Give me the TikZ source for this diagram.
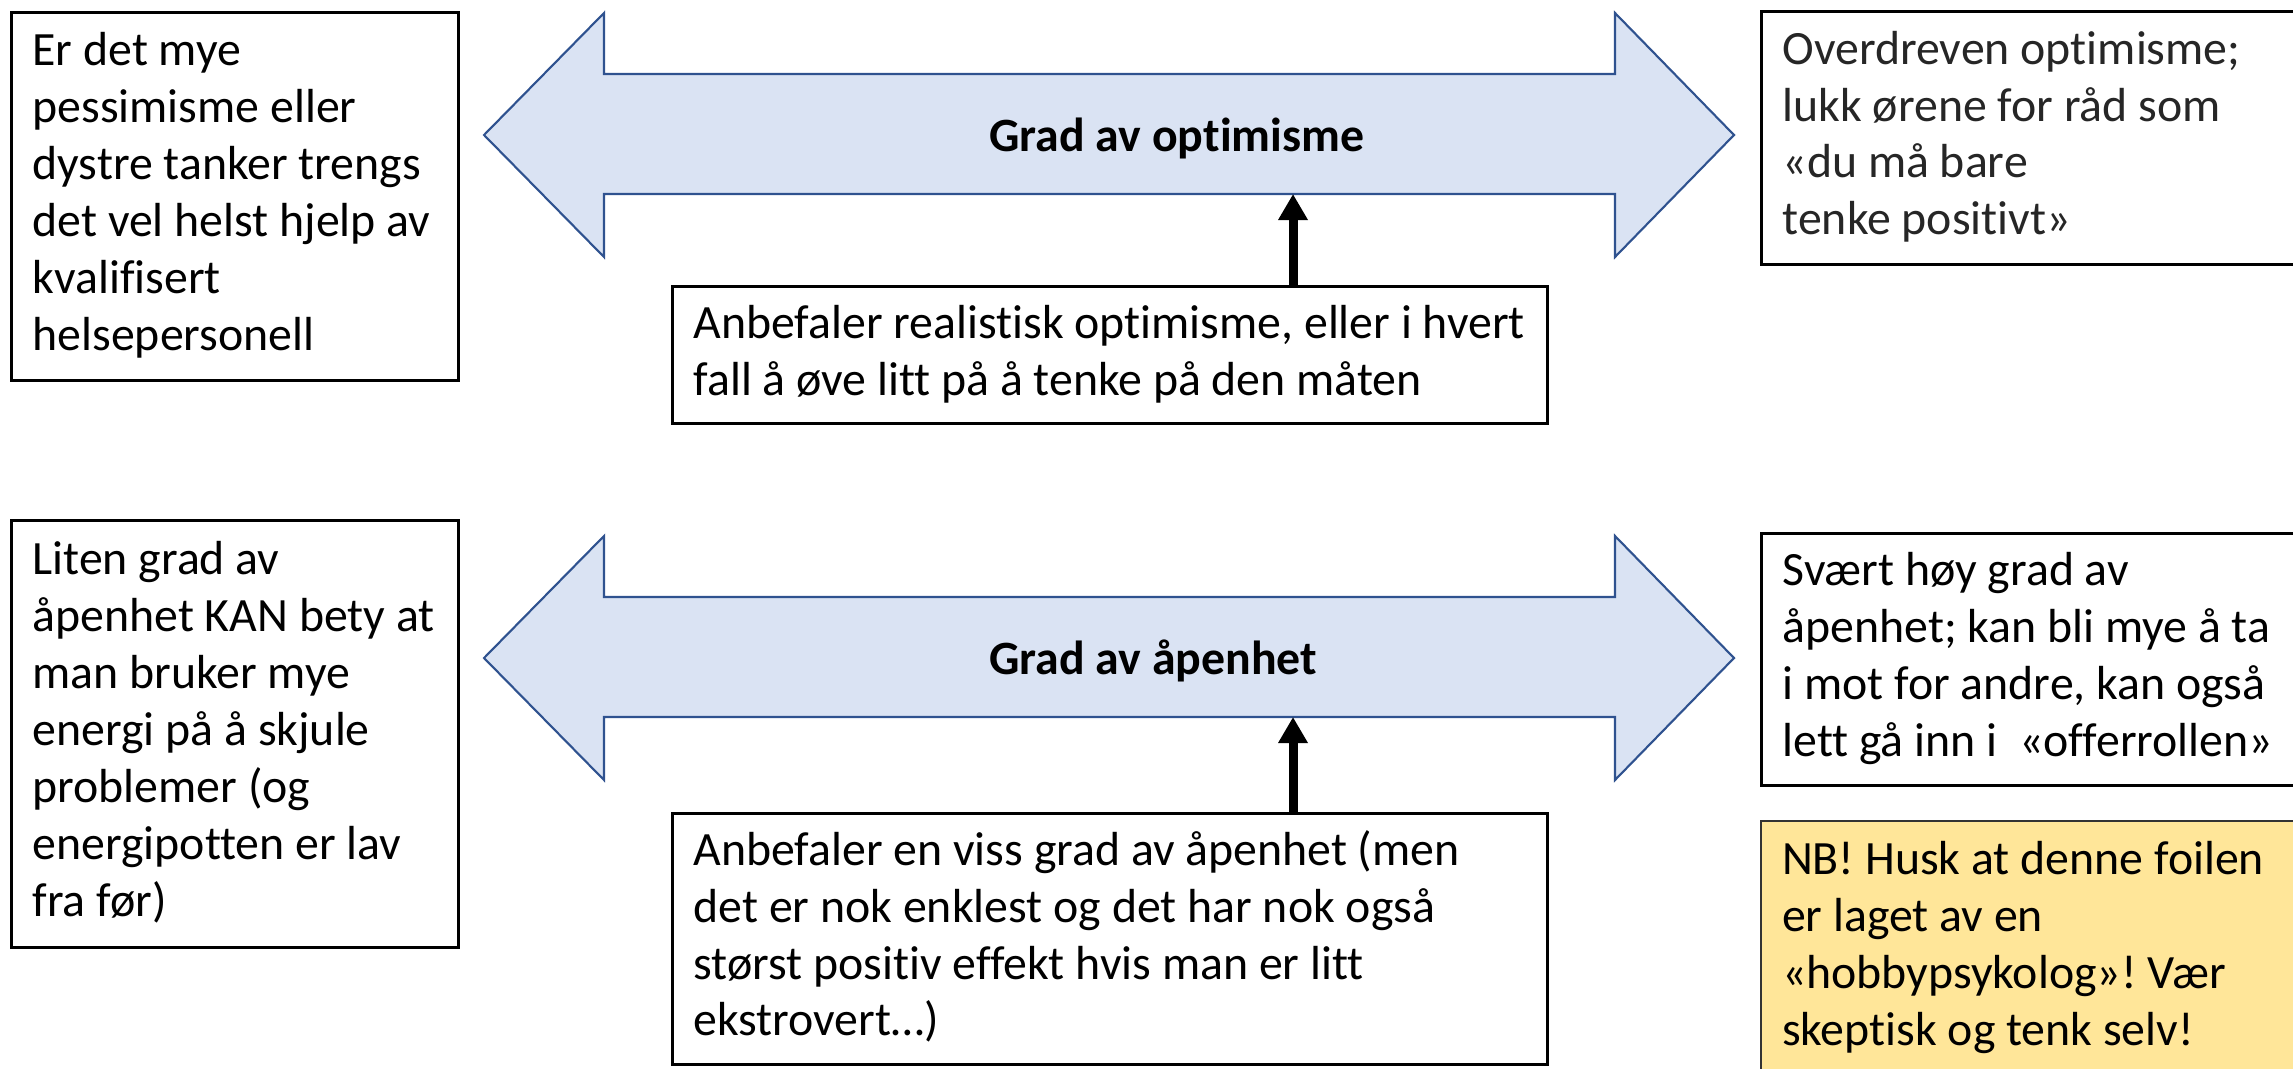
\documentclass[tikz,border=0pt]{standalone}
\usepackage{fontspec}
\setmainfont{Carlito}[Ligatures={NoCommon}]
\usepackage{tikz}
\usetikzlibrary{arrows.meta}

\definecolor{pilfyll}{HTML}{DAE3F3}
\definecolor{pilkant}{HTML}{2F528F}
\definecolor{gul}{HTML}{FFE699}
\newcommand{\brodtekst}{\fontsize{13.6pt}{16.2pt}\selectfont}
\newcommand{\linjer}[1]{\frenchspacing\spaceskip=0pt\xspaceskip=0pt\begin{tabular}{@{}l@{}}#1\end{tabular}}

\begin{document}
\begin{tikzpicture}[
		boks/.style={draw=black,line width=0.9pt,fill=white,align=left,anchor=north west,inner xsep=0.21cm,font=\brodtekst},
		gulboks/.style={boks,fill=gul,draw=black!80,line width=0.6pt},
		pil/.style={draw=pilkant,fill=pilfyll,line width=0.6pt},
		peker/.style={-{Triangle[length=0.26cm,width=0.28cm]},line width=0.09cm}]
		\useasboundingbox (0,0) rectangle (22.93,-10.68);
		\clip (0,0) rectangle (22.93,-10.68);
		% optimisme
		\draw [pil] (4.84,-1.35) -- (6.04,-0.13) -- (6.04,-0.74) -- (16.15,-0.74) -- (16.15,-0.13) -- (17.34,-1.35) -- (16.15,-2.57) -- (16.15,-1.94) -- (6.04,-1.94) -- (6.04,-2.57) -- cycle;
		\node [anchor=base west,font=\brodtekst\bfseries] (G1) at (9.77,-1.51) {Grad av optimisme};
		\coordinate (O1) at (12.93,-1.94);
		\node [boks,text width=4.05cm,minimum height=3.68cm] (V1) at (0.10,-0.11) {\linjer{Er det mye\\pessimisme eller\\dystre tanker trengs\\det vel helst hjelp av\\kvalifisert\\helsepersonell}};
		\node [boks,text width=5.18cm,minimum height=2.53cm,text=black!85] (H1) at (17.60,-0.10) {\linjer{Overdreven optimisme;\\lukk ørene for råd som\\«du må bare\\tenke positivt»}};
		\node [boks,text width=8.33cm,minimum height=1.37cm] (M1) at (6.71,-2.85) {\linjer{Anbefaler realistisk optimisme, eller i hvert\\fall å øve litt på å tenke på den måten}};
		\draw [peker] (M1.north -| O1) -- (O1);
		% åpenhet
		\draw [pil] (4.84,-6.58) -- (6.04,-5.36) -- (6.04,-5.97) -- (16.15,-5.97) -- (16.15,-5.36) -- (17.34,-6.58) -- (16.15,-7.80) -- (16.15,-7.17) -- (6.04,-7.17) -- (6.04,-7.80) -- cycle;
		\node [anchor=base west,font=\brodtekst\bfseries] (G2) at (9.77,-6.74) {Grad av åpenhet};
		\coordinate (O2) at (12.93,-7.17);
		\node [boks,text width=4.05cm,minimum height=4.27cm] (V2) at (0.10,-5.19) {\linjer{Liten grad av\\åpenhet KAN bety at\\man bruker mye\\energi på å skjule\\problemer (og\\energipotten er lav\\fra før)}};
		\node [boks,text width=5.18cm,minimum height=2.52cm] (H2) at (17.60,-5.32) {\linjer{Svært høy grad av\\åpenhet; kan bli mye å ta\\i mot for andre, kan også\\lett gå inn i\ \ «offerrollen»}};
		\node [boks,text width=8.33cm,minimum height=2.50cm] (M2) at (6.71,-8.12) {\linjer{Anbefaler en viss grad av åpenhet (men\\det er nok enklest og det har nok også\\størst positiv effekt hvis man er litt\\ekstrovert…)}};
		\draw [peker] (M2.north -| O2) -- (O2);
		\node [gulboks,text width=5.18cm,minimum height=2.55cm] (NB) at (17.60,-8.20) {\linjer{NB! Husk at denne foilen\\er laget av en\\«hobbypsykolog»! Vær\\skeptisk og tenk selv!}};
	\end{tikzpicture}
\end{document}
